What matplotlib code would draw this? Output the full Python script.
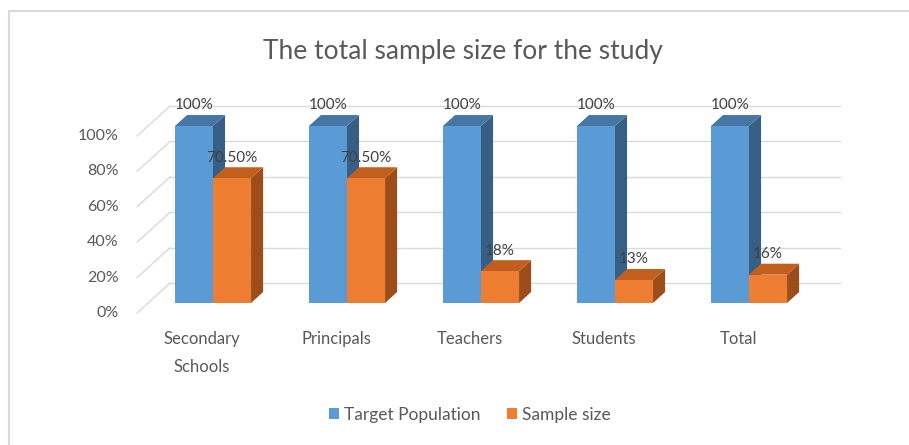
"""3D-style clustered bar chart: target population vs sample size per group."""

import matplotlib
matplotlib.use("Agg")
import matplotlib.pyplot as plt
from matplotlib.patches import Polygon, Rectangle, Patch
from matplotlib.lines import Line2D

# data
categories = ["Secondary\nSchools", "Principals", "Teachers", "Students", "Total"]
target_population = [100, 100, 100, 100, 100]
sample_size = [70.5, 70.5, 18, 13, 16]
sample_labels = ["70.50%", "70.50%", "18%", "13%", "16%"]
target_labels = ["100%", "100%", "100%", "100%", "100%"]
y_ticks = [0, 20, 40, 60, 80, 100]

# style
plt.rcParams["font.family"] = ["Lato", "DejaVu Sans"]
blue = ("#5B9BD5", "#4676A6", "#375F86")     # front, top, side
orange = ("#ED7D31", "#C25F1F", "#9C4D19")
grid_col = "#D9D9D9"
text_col = "#595959"
label_col = "#404040"

bar_w = 0.284          # category units
depth_x, depth_y = 0.09, 6.2          # bar depth offset
floor_dx, floor_dy = -0.082, -5.6     # front edge of floor
wall_dx, wall_dy = 0.164, 11.3        # back wall
wall_left, wall_right = -0.32, 4.68


def draw_bar(ax, x_left, value, cols):
    """Draw one pseudo-3D bar whose front face starts at x_left."""
    front, top, side = cols
    x_right = x_left + bar_w
    ax.add_patch(Polygon([(x_right, 0), (x_right + depth_x, depth_y),
                          (x_right + depth_x, value + depth_y), (x_right, value)],
                         closed=True, facecolor=side, edgecolor="none"))
    ax.add_patch(Polygon([(x_left, value), (x_left + depth_x, value + depth_y),
                          (x_right + depth_x, value + depth_y), (x_right, value)],
                         closed=True, facecolor=top, edgecolor="none"))
    ax.add_patch(Rectangle((x_left, 0), bar_w, value, facecolor=front, edgecolor="none"))


def make_chart():
    fig = plt.figure(figsize=(9.09, 4.45), dpi=100)
    ax = fig.add_axes([0, 0, 1, 1])
    ax.set_xlim(-213 / 134, (909 - 213) / 134)
    ax.set_ylim((303 - 445) / 1.77, 303 / 1.77)
    ax.axis("off")

    # back wall gridlines + left wall diagonals
    front_left = wall_left - (wall_dx - floor_dx)
    for v in y_ticks:
        ax.plot([wall_left, wall_right], [v + wall_dy, v + wall_dy], color=grid_col, lw=1, zorder=0)
        ax.plot([front_left, wall_left], [v + floor_dy, v + wall_dy],
                color=grid_col, lw=1, zorder=0)
        ax.text(front_left - 0.14, v + floor_dy, f"{v}%",
                ha="right", va="center", fontsize=11.5, color=text_col)

    # bars
    for i, (t, s) in enumerate(zip(target_population, sample_size)):
        draw_bar(ax, i - bar_w, t, blue)
        draw_bar(ax, i, s, orange)
        ax.text(i - bar_w / 2, t + depth_y + 1.5, target_labels[i], ha="center", va="bottom",
                fontsize=11, color=label_col)
        ax.text(i + bar_w / 2, s + depth_y + 1.5, sample_labels[i], ha="center", va="bottom",
                fontsize=11, color=label_col)
        ax.text(i + floor_dx, floor_dy - 10.5, categories[i], ha="center", va="top",
                fontsize=12, color=text_col, linespacing=1.9)

    # title
    fig.text(0.509, 1 - 51 / 445, "The total sample size for the study", ha="center",
             va="center", fontsize=19, color=text_col)

    # legend
    handles = [Patch(facecolor=blue[0]), Patch(facecolor=orange[0])]
    fig.legend(handles, ["Target Population", "Sample size"], loc="center",
               bbox_to_anchor=(0.517, 1 - 415 / 445), ncol=2, frameon=False,
               handlelength=0.6, handleheight=0.6, handletextpad=0.3, columnspacing=1.5,
               fontsize=12.5, labelcolor=text_col)

    # chart border (left and top)
    fig.add_artist(Line2D([9 / 909, 9 / 909, 1], [0, 1 - 11 / 445, 1 - 11 / 445],
                          transform=fig.transFigure, color=grid_col, lw=1.5))

    fig.savefig("out.png", dpi=100, facecolor="white")


if __name__ == "__main__":
    make_chart()
